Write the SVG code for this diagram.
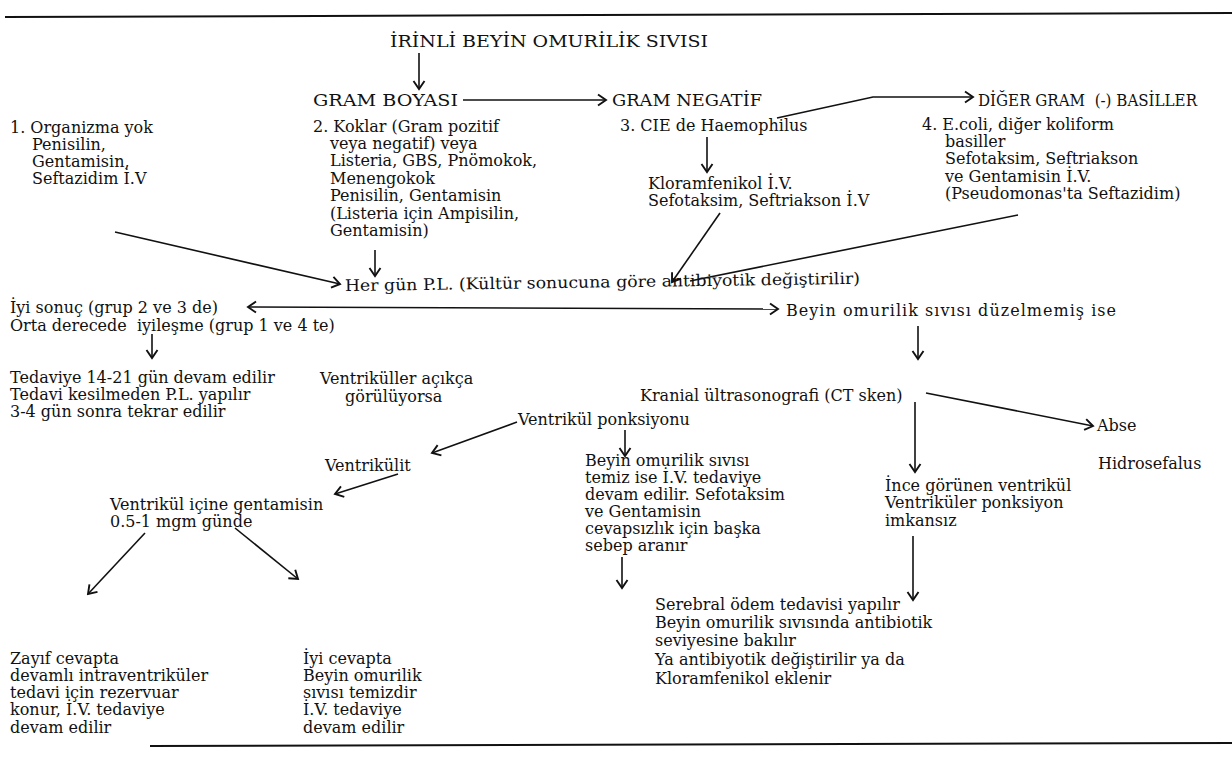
<svg xmlns="http://www.w3.org/2000/svg" width="1232" height="766" viewBox="0 0 1232 766">
<defs>
<marker id="ah" markerUnits="userSpaceOnUse" markerWidth="12" markerHeight="14" viewBox="-10 -7 12 14" refX="0" refY="0" orient="auto-start-reverse">
<path d="M-8,-5.5 L0,0 L-8,5.5" fill="none" stroke="#111" stroke-width="1.9"/>
</marker>
</defs>
<style>
text{font-family:"DejaVu Serif","Liberation Serif",serif;font-size:16px;fill:#111;white-space:pre}
.t{font-size:17.5px}
.c{fill:none;stroke:#111;stroke-width:1.6}
.a{marker-end:url(#ah)}
.r{fill:none;stroke:#111;stroke-width:2}
</style>
<rect width="1232" height="766" fill="#fff"/>
<g id="rules">
<path class="r" d="M5,17 L1232,13"/>
<path class="r" d="M150,746 L1232,743"/>
</g>
<g id="n-title"><text class="t" x="390" y="47" textLength="318" lengthAdjust="spacingAndGlyphs">İRİNLİ BEYİN OMURİLİK SIVISI</text></g>
<g id="n-gram"><text class="t" x="313" y="106" textLength="145" lengthAdjust="spacingAndGlyphs">GRAM BOYASI</text></g>
<g id="n-neg"><text class="t" x="612" y="106" textLength="150" lengthAdjust="spacingAndGlyphs">GRAM NEGATİF</text></g>
<g id="n-diger"><text class="t" x="978" y="106" textLength="219" lengthAdjust="spacingAndGlyphs">DİĞER GRAM  (-) BASİLLER</text></g>
<g id="n-g1">
<text x="10" y="133">1. Organizma yok</text>
<text x="32" y="150">Penisilin,</text>
<text x="32" y="167">Gentamisin,</text>
<text x="32" y="184">Seftazidim İ.V</text>
</g>
<g id="n-g2">
<text x="313" y="132">2. Koklar (Gram pozitif</text>
<text x="330" y="149">veya negatif) veya</text>
<text x="330" y="166">Listeria, GBS, Pnömokok,</text>
<text x="330" y="183.5">Menengokok</text>
<text x="330" y="201">Penisilin, Gentamisin</text>
<text x="330" y="218.5">(Listeria için Ampisilin,</text>
<text x="330" y="236">Gentamisin)</text>
</g>
<g id="n-g3">
<text x="620" y="131">3. CIE de Haemophilus</text>
<text x="648" y="189">Kloramfenikol İ.V.</text>
<text x="648" y="206">Sefotaksim, Seftriakson İ.V</text>
</g>
<g id="n-g4">
<text x="922" y="130">4. E.coli, diğer koliform</text>
<text x="945" y="147">basiller</text>
<text x="945" y="164">Sefotaksim, Seftriakson</text>
<text x="945" y="182">ve Gentamisin İ.V.</text>
<text x="945" y="199">(Pseudomonas'ta Seftazidim)</text>
</g>
<g id="n-pl"><text x="345" y="291" transform="rotate(-0.8 345 291)" textLength="515" lengthAdjust="spacingAndGlyphs">Her gün P.L. (Kültür sonucuna göre antibiyotik değiştirilir)</text></g>
<g id="n-iyi">
<text x="10" y="313">İyi sonuç (grup 2 ve 3 de)</text>
<text x="10" y="331">Orta derecede  iyileşme (grup 1 ve 4 te)</text>
</g>
<g id="n-tedavi">
<text x="10" y="383">Tedaviye 14-21 gün devam edilir</text>
<text x="10" y="400">Tedavi kesilmeden P.L. yapılır</text>
<text x="10" y="417">3-4 gün sonra tekrar edilir</text>
</g>
<g id="n-acik">
<text x="320" y="384">Ventriküller açıkça</text>
<text x="345" y="402">görülüyorsa</text>
</g>
<g id="n-duz"><text x="786" y="316" textLength="330" lengthAdjust="spacing">Beyin omurilik sıvısı düzelmemiş ise</text></g>
<g id="n-kranial"><text x="640" y="401">Kranial ültrasonografi (CT sken)</text></g>
<g id="n-abse"><text x="1097" y="431">Abse</text></g>
<g id="n-hidro"><text x="1098" y="469">Hidrosefalus</text></g>
<g id="n-ince">
<text x="885" y="491">İnce görünen ventrikül</text>
<text x="885" y="508">Ventriküler ponksiyon</text>
<text x="885" y="526">imkansız</text>
</g>
<g id="n-ponk"><text x="518" y="425">Ventrikül ponksiyonu</text></g>
<g id="n-vit"><text x="325" y="471">Ventrikülit</text></g>
<g id="n-genta">
<text x="110" y="510">Ventrikül içine gentamisin</text>
<text x="110" y="527">0.5-1 mgm günde</text>
</g>
<g id="n-zayif">
<text x="10" y="664">Zayıf cevapta</text>
<text x="10" y="681">devamlı intraventriküler</text>
<text x="10" y="698">tedavi için rezervuar</text>
<text x="10" y="715">konur, İ.V. tedaviye</text>
<text x="10" y="733">devam edilir</text>
</g>
<g id="n-iyicevap">
<text x="303" y="664">İyi cevapta</text>
<text x="303" y="681">Beyin omurilik</text>
<text x="303" y="698">sıvısı temizdir</text>
<text x="303" y="715">İ.V. tedaviye</text>
<text x="303" y="733">devam edilir</text>
</g>
<g id="n-temiz">
<text x="585" y="466">Beyin omurilik sıvısı</text>
<text x="585" y="483">temiz ise İ.V. tedaviye</text>
<text x="585" y="500">devam edilir. Sefotaksim</text>
<text x="585" y="517">ve Gentamisin</text>
<text x="585" y="534">cevapsızlık için başka</text>
<text x="585" y="551">sebep aranır</text>
</g>
<g id="n-serebral">
<text x="655" y="610">Serebral ödem tedavisi yapılır</text>
<text x="655" y="628">Beyin omurilik sıvısında antibiotik</text>
<text x="655" y="646">seviyesine bakılır</text>
<text x="655" y="665">Ya antibiyotik değiştirilir ya da</text>
<text x="655" y="684">Kloramfenikol eklenir</text>
</g>
<g id="connectors">
<path class="c a" d="M419,53 L419,89"/>
<path class="c a" d="M463,100 L606,100"/>
<path class="c a" d="M777,118 L873,97 L973,97"/>
<path class="c a" d="M115,232 L340,284"/>
<path class="c a" d="M375,250 L375,276"/>
<path class="c a" d="M707,137 L707,172"/>
<path class="c a" d="M720,213 L672,282"/>
<path class="c" d="M1018,215 L690,281"/>
<path class="c a" d="M248,307 L778,309" marker-start="url(#ah)"/>
<path class="c a" d="M152,334 L152,358"/>
<path class="c a" d="M918,326 L918,359"/>
<path class="c a" d="M926,393 L1093,426"/>
<path class="c a" d="M915,402 L915,472"/>
<path class="c a" d="M913,536 L913,600"/>
<path class="c a" d="M517,422 L432,453"/>
<path class="c a" d="M625,430 L625,456"/>
<path class="c a" d="M398,474 L335,494"/>
<path class="c a" d="M145,533 L88,594"/>
<path class="c a" d="M235,528 L298,579"/>
<path class="c a" d="M622,557 L622,588"/>
</g>
</svg>
